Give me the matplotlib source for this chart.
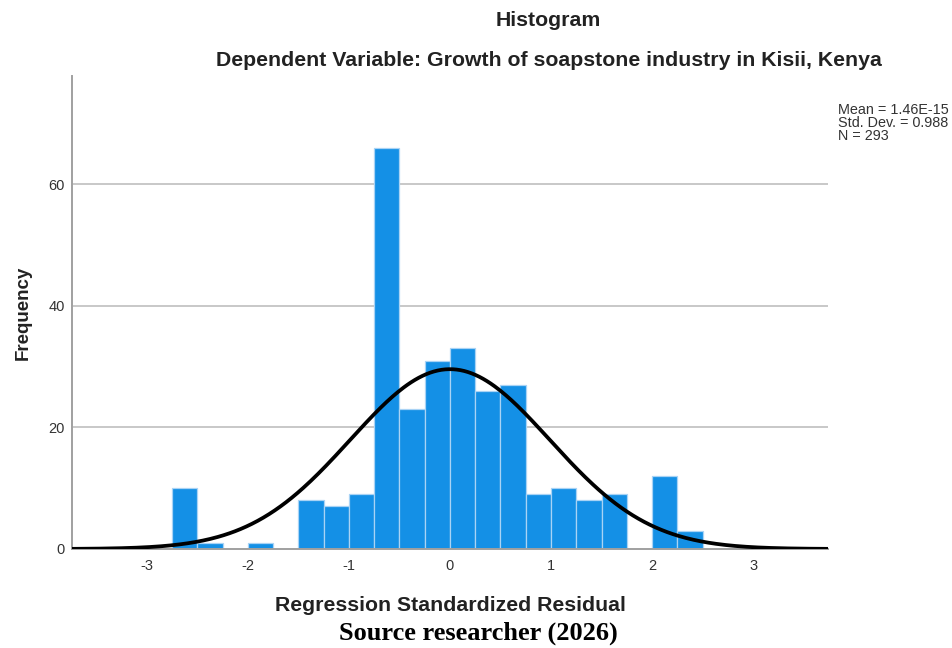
import numpy as np
import matplotlib.pyplot as plt

# histogram of the regression residuals
bin_left = [-2.75, -2.5, -2.25, -2.0, -1.75, -1.5, -1.25, -1.0, -0.75, -0.5, -0.25,
            0.0, 0.25, 0.5, 0.75, 1.0, 1.25, 1.5, 1.75, 2.0, 2.25]
counts = [10, 1, 0, 1, 0, 8, 7, 9, 66, 23, 31, 33, 26, 27, 9, 10, 8, 9, 0, 12, 3]
bin_width = 0.25

mean = 1.46e-15
std = 0.988
n = 293

x_ticks = [-3, -2, -1, 0, 1, 2, 3]
y_ticks = [0, 20, 40, 60]

plt.rcParams['font.family'] = ['Liberation Sans', 'DejaVu Sans']

fig = plt.figure(figsize=(9.52, 6.48), dpi=100)
ax = fig.add_axes([0.0756, 0.1528, 0.7941, 0.7299])

# grid first so the bars sit over it
for yv in y_ticks[1:]:
	ax.axhline(yv, color='#c8c8c8', lw=1.4, zorder=0)

ax.bar(bin_left, counts, width=bin_width, align='edge', color='#1490e6',
       edgecolor='#a9d3f5', linewidth=0.9, zorder=2)

# normal curve scaled to the counts
xs = np.linspace(-3.74, 3.74, 400)
ys = n * bin_width / (std * np.sqrt(2 * np.pi)) * np.exp(-0.5 * ((xs - mean) / std) ** 2)
ax.plot(xs, ys, color='black', lw=2.7, zorder=3, solid_capstyle='round')

ax.set_xlim(-3.74, 3.74)
ax.set_ylim(0, 77.8)
ax.set_xticks(x_ticks)
ax.set_xticklabels(['-3', '-2', '-1', '0', '1', '2', '3'])
ax.set_yticks(y_ticks)
ax.tick_params(length=0, labelsize=10.5, colors='#333333', pad=5)
ax.tick_params(axis='x', pad=7)

for side in ['top', 'right']:
	ax.spines[side].set_visible(False)
ax.spines['left'].set_color('#a0a0a0')
ax.spines['bottom'].set_color('#a0a0a0')
ax.spines['left'].set_linewidth(1.4)
ax.spines['bottom'].set_linewidth(1.4)

ax.set_ylabel('Frequency', fontsize=13.5, fontweight='bold', color='#222222', labelpad=12)
ax.set_xlabel('Regression Standardized Residual', fontsize=15.3, fontweight='bold',
              color='#222222', labelpad=17)

fig.text(0.5756, 0.969, 'Histogram', ha='center', va='center', fontsize=15.3,
         fontweight='bold', color='#222222')
fig.text(0.5767, 0.907, 'Dependent Variable: Growth of soapstone industry in Kisii, Kenya',
         ha='center', va='center', fontsize=15.3, fontweight='bold', color='#222222')

fig.text(0.880, 0.810, 'Mean = 1.46E-15\nStd. Dev. = 0.988\nN = 293', ha='left', va='center',
         fontsize=10.4, color='#333333', linespacing=0.92)

fig.text(0.502, 0.023, 'Source researcher (2026)', ha='center', va='center',
         fontsize=19, fontweight='bold', family=['Liberation Serif', 'DejaVu Serif'])

fig.savefig('out.png', dpi=100)
